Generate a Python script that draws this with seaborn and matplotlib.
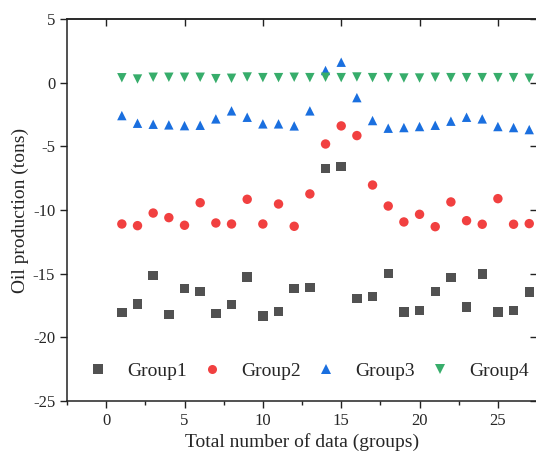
import numpy as np
import pandas as pd
import matplotlib
matplotlib.use("Agg")
import matplotlib.pyplot as plt
import seaborn as sns
from matplotlib.ticker import MultipleLocator

# data
x_idx = list(range(1, 28))
group1 = [-18.07, -17.38, -15.16, -18.19, -16.15, -16.42, -18.12, -17.41, -15.26,
          -18.33, -17.99, -16.18, -16.10, -6.73, -6.60, -16.94, -16.81, -15.00,
          -18.01, -17.91, -16.42, -15.29, -17.60, -15.03, -18.01, -17.91, -16.44]
group2 = [-11.10, -11.23, -10.24, -10.60, -11.20, -9.43, -11.02, -11.10, -9.16,
          -11.10, -9.53, -11.28, -8.74, -4.82, -3.40, -4.16, -8.04, -9.69,
          -10.94, -10.34, -11.31, -9.37, -10.84, -11.12, -9.11, -11.12, -11.07]
group3 = [-2.59, -3.19, -3.27, -3.32, -3.38, -3.35, -2.85, -2.22, -2.72,
          -3.24, -3.24, -3.40, -2.22, 0.95, 1.60, -1.18, -2.98, -3.58,
          -3.53, -3.45, -3.35, -3.03, -2.72, -2.85, -3.45, -3.53, -3.69]
group4 = [0.38, 0.28, 0.42, 0.42, 0.42, 0.42, 0.31, 0.34, 0.44,
          0.39, 0.39, 0.42, 0.39, 0.42, 0.39, 0.44, 0.39, 0.39,
          0.36, 0.36, 0.42, 0.39, 0.39, 0.39, 0.39, 0.39, 0.34]
group_names = ["Group1", "Group2", "Group3", "Group4"]
colors = ["#515151", "#F14040", "#1A6FDF", "#37AD6B"]
markers = ["s", "o", "^", "v"]

df = pd.concat([pd.DataFrame({"x": x_idx, "y": vals, "group": name})
                for name, vals in zip(group_names, [group1, group2, group3, group4])],
               ignore_index=True)

sns.set_style("ticks")
plt.rcParams["font.family"] = ["Liberation Serif", "DejaVu Serif"]
plt.rcParams["axes.unicode_minus"] = False

fig = plt.figure(figsize=(5.36, 4.61), dpi=100)
ax = fig.add_axes([0.125, 0.13, 0.877, 0.829])

sns.scatterplot(data=df, x="x", y="y", hue="group", style="group",
                palette=dict(zip(group_names, colors)),
                markers=dict(zip(group_names, markers)),
                s=46, linewidth=0, ax=ax, legend=True)

ax.set_xlim(-2.5, 27.5)
ax.set_ylim(-25, 5)
ax.xaxis.set_major_locator(MultipleLocator(5))
ax.xaxis.set_minor_locator(MultipleLocator(2.5))
ax.yaxis.set_major_locator(MultipleLocator(5))
ax.set_xlabel("Total number of data (groups)", fontsize=14, labelpad=3)
ax.set_ylabel("Oil production (tons)", fontsize=14, labelpad=3)

for sp in ax.spines.values():
    sp.set_visible(True)
    sp.set_linewidth(1.1)
    sp.set_color("#222222")
ax.tick_params(axis="both", which="major", direction="out", length=5, width=1,
               labelsize=12, color="#222222", top=False, right=False)
ax.tick_params(axis="x", which="minor", direction="out", length=3, width=1,
               color="#222222", top=False)

# mirrored ticks pointing inwards on top and right
top = ax.secondary_xaxis("top")
top.xaxis.set_major_locator(MultipleLocator(5))
top.tick_params(direction="in", length=5, width=1, labeltop=False, color="#222222")
top.spines["top"].set_linewidth(1.1)
right = ax.secondary_yaxis("right")
right.yaxis.set_major_locator(MultipleLocator(5))
right.tick_params(direction="in", length=5, width=1, labelright=False, color="#222222")
right.spines["right"].set_linewidth(1.1)

handles, labels = ax.get_legend_handles_labels()
for h in handles:
    h.set_markersize(6.5)
ax.legend(handles, labels, ncol=4, frameon=False, loc="center",
          bbox_to_anchor=(0.51, 0.078), fontsize=14, handlelength=1.4,
          handletextpad=0.8, columnspacing=0.6)

fig.savefig("out.png", dpi=100)
